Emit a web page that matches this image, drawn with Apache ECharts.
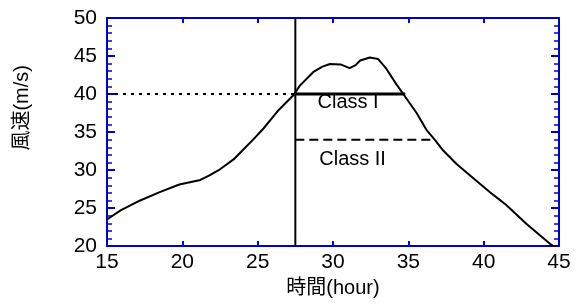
<!DOCTYPE html>
<html>
<head>
<meta charset="utf-8">
<script src="https://cdn.jsdelivr.net/npm/echarts@6/dist/echarts.min.js"></script>
<style>
  html, body { margin: 0; padding: 0; background: #fff; }
  #chart { width: 578px; height: 303px; }
</style>
</head>
<body>
<div id="chart"></div>
<script>
// 風速の時間変化 (読み取り値)
var hours = [15.0, 15.9, 17.2, 18.5, 19.8, 21.2, 21.8, 22.5, 23.4, 24.05, 24.7, 25.4, 26.3, 27.4,
             27.8, 28.7, 29.3, 29.8, 30.5, 31.1, 31.5, 31.8, 32.45, 33.0, 33.55, 34.2, 34.7,
             35.55, 36.2, 36.75, 37.3, 38.2, 39.75, 40.6, 41.5, 42.85, 44.4, 45.0];
var speeds = [23.5, 24.7, 26.0, 27.1, 28.1, 28.7, 29.3, 30.1, 31.4, 32.7, 34.0, 35.5, 37.7, 39.9,
              41.1, 42.9, 43.6, 43.95, 43.9, 43.4, 43.8, 44.4, 44.8, 44.6, 43.3, 41.3, 39.9,
              37.5, 35.3, 34.0, 32.6, 30.8, 28.2, 26.8, 25.4, 22.9, 20.3, 19.5];

var cutHour = 27.5;          // 縦線
var class1Speed = 40, class1End = 34.8;
var class2Speed = 34, class2End = 36.6;
var class1Label = ['Class I', 31.0, 38.9];
var class2Label = ['Class II', 31.3, 31.4];

var AXIS_COLOR = '#0000cc';
var FONT = '"Liberation Sans", Arial, "Noto Sans CJK JP", sans-serif';

var chart = echarts.init(document.getElementById('chart'), null, { renderer: 'canvas' });

function pairs(xs, ys) {
    var out = [];
    for (var i = 0; i < xs.length; i++) out.push([xs[i], ys[i]]);
    return out;
}

var baseX = {
    type: 'value', min: 15, max: 45, interval: 5,
    axisLine: { show: true, onZero: false, lineStyle: { color: AXIS_COLOR, width: 2 } },
    axisTick: { show: true, inside: true, length: 5, lineStyle: { color: AXIS_COLOR, width: 2 } },
    splitLine: { show: false }
};
var baseY = {
    type: 'value', min: 20, max: 50, interval: 5,
    axisLine: { show: true, onZero: false, lineStyle: { color: AXIS_COLOR, width: 2 } },
    axisTick: { show: true, inside: true, length: 8, lineStyle: { color: AXIS_COLOR, width: 2 } },
    minorTick: { show: true, splitNumber: 5, length: 5, lineStyle: { color: AXIS_COLOR, width: 1.5 } },
    splitLine: { show: false }
};

var option = {
    backgroundColor: '#fff',
    animation: false,
    grid: { left: 107, right: 19, top: 18, bottom: 53 }
};

option.xAxis = [
    Object.assign({}, baseX, {
        position: 'bottom',
        name: '時間(hour)', nameLocation: 'middle', nameGap: 30,
        nameTextStyle: { color: '#000', fontSize: 20, fontFamily: FONT },
        axisLabel: { color: '#000', fontSize: 21, fontFamily: FONT, margin: 6 }
    }),
    Object.assign({}, baseX, { position: 'top', axisLabel: { show: false } })
];
option.yAxis = [
    Object.assign({}, baseY, {
        position: 'left',
        axisLabel: { color: '#000', fontSize: 21, fontFamily: FONT, margin: 10, padding: [4, 0, 0, 0] }
    }),
    Object.assign({}, baseY, { position: 'right', axisLabel: { show: false } })
];

option.graphic = [{
    type: 'text', left: 12, top: 65,
    rotation: Math.PI / 2,
    style: { text: '風速(m/s)', fill: '#000', font: '20px ' + FONT }
}];

option.series = [
    {
        type: 'line', data: pairs(hours, speeds), showSymbol: false, symbol: 'none',
        lineStyle: { color: '#000', width: 2 }, clip: true
    },
    {   // 縦線
        type: 'line', data: [[cutHour, 20], [cutHour, 50]], symbol: 'none',
        lineStyle: { color: '#000', width: 2 }
    },
    {   // 点線 40 m/s
        type: 'line', data: [[15, class1Speed], [cutHour, class1Speed]], symbol: 'none',
        lineStyle: { color: '#000', width: 2, type: [3, 5] }
    },
    {   // Class I
        type: 'line', data: [[cutHour, class1Speed], [class1End, class1Speed]], symbol: 'none',
        lineStyle: { color: '#000', width: 3 }
    },
    {   // Class II
        type: 'line', data: [[cutHour, class2Speed], [class2End, class2Speed]], symbol: 'none',
        lineStyle: { color: '#000', width: 2, type: [9, 5] }
    },
    {
        type: 'scatter', symbolSize: 0, silent: true,
        itemStyle: { opacity: 1 },
        data: [[class1Label[1], class1Label[2], class1Label[0]], [class2Label[1], class2Label[2], class2Label[0]]],
        label: {
            show: true, position: 'inside', color: '#000', opacity: 1, fontSize: 20, fontFamily: FONT,
            formatter: function(p) { return p.data[2]; }
        }
    }
];

chart.setOption(option);
</script>
</body>
</html>
